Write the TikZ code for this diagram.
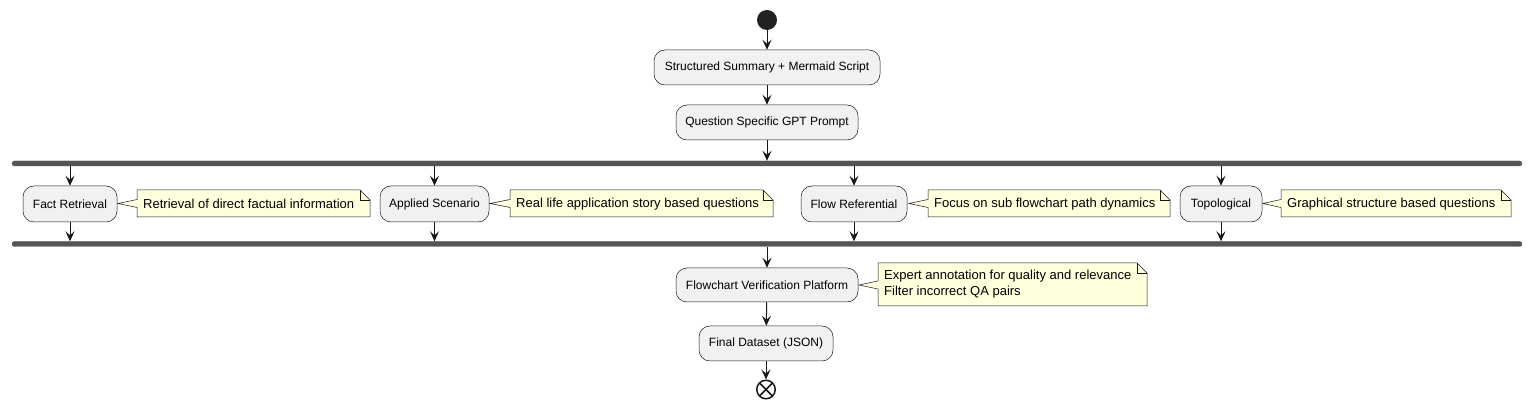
\documentclass[tikz,border=0pt]{standalone}
\usepackage{fontspec}
\setmainfont{Liberation Sans}
\usetikzlibrary{arrows.meta,calc}
\definecolor{boxfill}{HTML}{F1F1F1}
\definecolor{lineclr}{HTML}{181818}
\definecolor{notefill}{HTML}{FEFFDD}
\definecolor{barclr}{HTML}{555555}
\definecolor{startclr}{HTML}{222222}
\tikzset{
  x=1pt, y=-1pt,
  actbox/.style={draw=lineclr, line width=0.5pt, fill=boxfill, rounded corners=11pt,
    minimum height=35pt, inner sep=0pt, font=\fontsize{12}{14}\selectfont},
  notetext/.style={inner sep=0pt, align=left, font=\fontsize{13}{16}\selectfont},
  bar/.style={fill=barclr, draw=barclr, rounded corners=2.5pt, inner sep=0pt, minimum height=5pt},
  flow/.style={draw=lineclr, line width=1pt, -{Stealth[length=10pt,width=9pt,inset=4pt]}},
  notepath/.style={draw=lineclr, line width=0.5pt, fill=notefill},
}
\begin{document}
\begin{tikzpicture}
\useasboundingbox (0,0) rectangle (1532,411);
\fill[white] (0,0) rectangle (1532,411);

% start / end
\node[circle, fill=startclr, minimum size=20pt, inner sep=0pt] (start) at (767,20) {};

\node[actbox, minimum width=226pt] (s1) at (767,67.5) {Structured Summary + Mermaid Script};
\node[actbox, minimum width=182pt] (s2) at (767,122.5) {Question Specific GPT Prompt};

\node[bar, minimum width=1510pt] (fork) at (767,163.5) {};
\node[bar, minimum width=1510pt] (join) at (767,244) {};

\node[actbox, minimum width=94pt, minimum height=36pt] (fr) at (70,204) {Fact Retrieval};
\node[actbox, minimum width=109pt, minimum height=36pt] (as) at (434.5,204) {Applied Scenario};
\node[actbox, minimum width=106pt, minimum height=36pt] (flr) at (854,204) {Flow Referential};
\node[actbox, minimum width=82pt, minimum height=36pt] (top) at (1221,204) {Topological};

\node[actbox, minimum width=182pt, minimum height=34pt] (fvp) at (767,285) {Flowchart Verification Platform};
\node[actbox, minimum width=134pt] (fd) at (766,343.5) {Final Dataset (JSON)};

\node[circle, draw=lineclr, line width=1.5pt, fill=white, minimum size=18.5pt, inner sep=0pt] (stop) at (766,389.5) {};
\draw[lineclr, line width=1.5pt] ($(stop.center)+(-6,-6)$) -- ($(stop.center)+(6,6)$);
\draw[lineclr, line width=1.5pt] ($(stop.center)+(-6,6)$) -- ($(stop.center)+(6,-6)$);

% note outlines: (left, top, right, bottom, tip x, tip y)
\foreach \l/\t/\r/\b/\tx/\ty in {137/190/370/217/118/203.5, 510/190/773/217/490/203.5, 928/190/1170/217/909/203.5, 1281/190/1511/217/1263/203.5, 878/263/1147/306/859/285}{
  \draw[notepath] (\l,\t) -- (\r-10,\t) -- (\r,\t+10) -- (\r,\b) -- (\l,\b) -- (\l,\ty+4) -- (\tx,\ty) -- (\l,\ty-4) -- cycle;
  \draw[lineclr, line width=0.5pt] (\r-10,\t) -- (\r-10,\t+10) -- (\r,\t+10);
}
% note texts
\node[notetext, anchor=west] (n1) at (143,204) {Retrieval of direct factual information};
\node[notetext, anchor=west] (n2) at (516,204) {Real life application story based questions};
\node[notetext, anchor=west] (n3) at (934,204) {Focus on sub flowchart path dynamics};
\node[notetext, anchor=west] (n4) at (1287,204) {Graphical structure based questions};
\node[notetext, anchor=west] (n5) at (884,284.5) {Expert annotation for quality and relevance\\Filter incorrect QA pairs};

% connectors
\draw[flow] (start) -- (s1);
\draw[flow] (s1) -- (s2);
\draw[flow] (s2) -- (s2 |- fork.north);
\foreach \n in {fr,as,flr,top}{
  \draw[flow] (fork.south -| \n.north) -- (\n.north);
  \draw[flow] (\n.south) -- (join.north -| \n.south);
}
\draw[flow] (join.south -| fvp.north) -- (fvp.north);
\draw[flow] (fvp) -- (fd);
\draw[flow] (fd) -- (stop);
\end{tikzpicture}
\end{document}
